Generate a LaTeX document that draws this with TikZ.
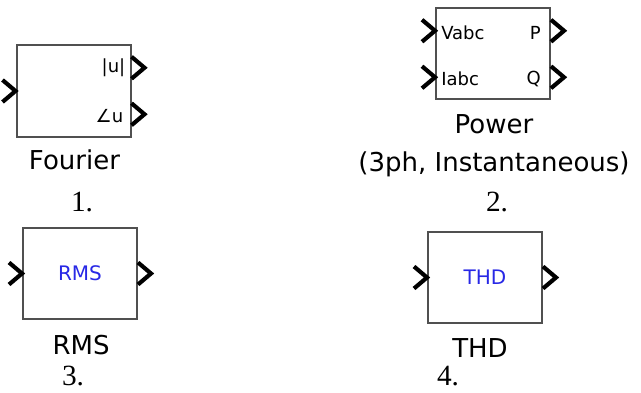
\documentclass[tikz,border=0pt]{standalone}
\usepackage{fontspec}
\setmainfont{Liberation Serif}
\newfontfamily\simfont{DejaVu Sans}
\usetikzlibrary{calc}

\definecolor{simblue}{RGB}{40,40,230}
\definecolor{edgegray}{RGB}{80,80,80}

% chevron ports on a block edge
\newcommand\inport[1]{\draw[chev] ($(#1)+(-13,-11)$) -- (#1) -- ++(-13,11);}
\newcommand\outport[1]{\draw[chev] ($(#1)+(0,-11)$) -- ++(13,11) -- ++(-13,11);}

\begin{document}
\begin{tikzpicture}[x=0.75pt, y=-0.75pt, line join=miter,
  blk/.style={draw=edgegray, line width=1.5pt, fill=white,
    minimum width=85.5pt, minimum height=68.25pt, inner sep=0pt},
  chev/.style={line width=3.1pt},
  portlbl/.style={font=\simfont\fontsize{13.5}{16}\selectfont, inner sep=0pt},
  inlbl/.style={font=\simfont\fontsize{15}{18}\selectfont, text=simblue},
  caption/.style={font=\simfont\fontsize{19.5}{28}\selectfont, inner sep=0pt, anchor=base},
  num/.style={font=\fontsize{22}{26}\selectfont, inner sep=0pt, anchor=base}]
  \def\pa{0.25}   % upper port
  \def\pb{0.75}   % lower port

  \useasboundingbox (0,0) rectangle (641,392);

  % ----- 1. Fourier -----
  \node[blk] (fou) at (73.5,91) {};
  \coordinate (fou-in) at (fou.west);
  \coordinate (fou-o1) at ($(fou.north east)!\pa!(fou.south east)$);
  \coordinate (fou-o2) at ($(fou.north east)!\pb!(fou.south east)$);
  \inport{fou-in}
  \outport{fou-o1}
  \outport{fou-o2}
  \node[portlbl, anchor=east] (fou-abs) at ($(fou-o1)+(-6,0)$) {|u|};
  \node[portlbl, anchor=east] (fou-ang) at ($(fou-o2)+(-8,2)$) {∠u};
  \node[caption] (fou-cap) at (74.5,169) {Fourier};
  \node[num] (n1) at (82,211) {1.};

  % ----- 2. Power (3ph) -----
  \node[blk] (pow) at (493,54) {};
  \coordinate (pow-i1) at ($(pow.north west)!\pa!(pow.south west)$);
  \coordinate (pow-i2) at ($(pow.north west)!\pb!(pow.south west)$);
  \coordinate (pow-o1) at ($(pow.north east)!\pa!(pow.south east)$);
  \coordinate (pow-o2) at ($(pow.north east)!\pb!(pow.south east)$);
  \inport{pow-i1}
  \inport{pow-i2}
  \outport{pow-o1}
  \outport{pow-o2}
  \node[portlbl, anchor=west] (pow-v) at ($(pow-i1)+(6,2)$) {Vabc};
  \node[portlbl, anchor=west] (pow-i) at ($(pow-i2)+(6,2)$) {Iabc};
  \node[portlbl, anchor=east] (pow-p) at ($(pow-o1)+(-10,2)$) {P};
  \node[portlbl, anchor=east] (pow-q) at ($(pow-o2)+(-10,2)$) {Q};
  \node[caption, align=center] (pow-cap) at (494,171) {Power\\(3ph, Instantaneous)};
  \node[num] (n2) at (497,211) {2.};

  % ----- 3. RMS -----
  \node[blk, inlbl] (rms) at (80,273.5) {RMS};
  \inport{rms.west}
  \outport{rms.east}
  \node[caption] (rms-cap) at (81,354) {RMS};
  \node[num] (n3) at (73,385) {3.};

  % ----- 4. THD -----
  \node[blk, inlbl] (thd) at (485,277.5) {THD};
  \inport{thd.west}
  \outport{thd.east}
  \node[caption] (thd-cap) at (480,357) {THD};
  \node[num] (n4) at (448,385) {4.};
\end{tikzpicture}
\end{document}
